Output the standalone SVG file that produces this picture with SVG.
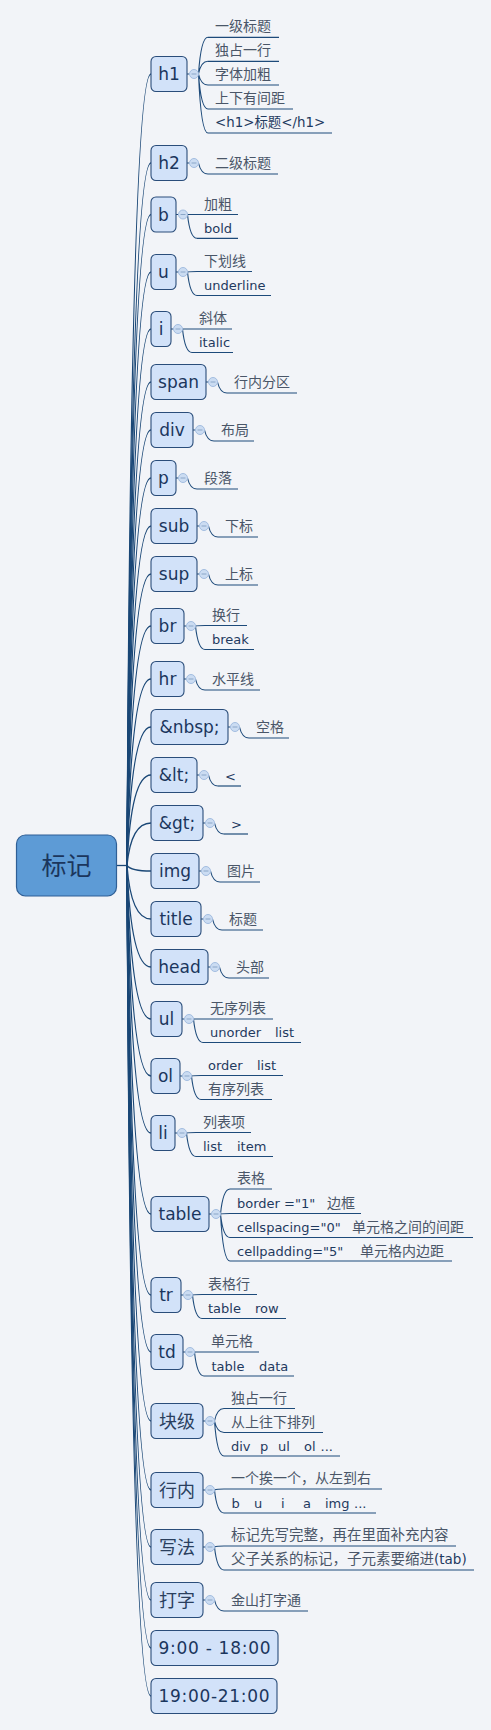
<svg xmlns="http://www.w3.org/2000/svg" width="491" height="1730" viewBox="0 0 491 1730">
<style>
.bg{fill:#f2f4f8}
.tr{fill:none;stroke:#1a4776;stroke-width:1.3}
.sc{fill:none;stroke:#1d4a7a;stroke-width:1.1}
.ul{fill:none;stroke:#1d4a7a;stroke-width:1.2}
.node{fill:#d2e2f9;stroke:#2a4d7a;stroke-width:1.1}
.root{fill:#5d9bd6;stroke:#2f5f96;stroke-width:1.2}
.nt{font-family:"DejaVu Sans","Noto Sans CJK SC",sans-serif;font-size:17px;fill:#1b365d;text-anchor:middle}
.ntc{font-family:"Noto Sans CJK SC",sans-serif;font-size:18px;fill:#2a3f5e;text-anchor:middle}
.rt{font-family:"Noto Sans CJK SC",sans-serif;font-size:25px;fill:#1b365d;text-anchor:middle}
.ce{font-family:"DejaVu Sans","Noto Sans CJK SC",sans-serif;font-size:13px;fill:#1f3a5f}
.cc{font-family:"Noto Sans CJK SC",sans-serif;font-size:14px;fill:#4a5668}
.col{fill:#cbdcf2;stroke:#a3bde0;stroke-width:1}
.mn{stroke:#8aa6c8;stroke-width:1}
</style>
<rect class="bg" x="0" y="0" width="491" height="1730"/>

<g id="connectors">
<path class="tr" d="M116 865.5H127"/>
<path class="tr" d="M127 865.5Q131 74 151 74"/>
<path class="tr" d="M127 865.5Q131 163 151 163"/>
<path class="tr" d="M127 865.5Q131 214.5 151 214.5"/>
<path class="tr" d="M127 865.5Q131 272 151 272"/>
<path class="tr" d="M127 865.5Q131 329 151 329"/>
<path class="tr" d="M127 865.5Q131 382 151 382"/>
<path class="tr" d="M127 865.5Q131 430 151 430"/>
<path class="tr" d="M127 865.5Q131 478 151 478"/>
<path class="tr" d="M127 865.5Q131 526 151 526"/>
<path class="tr" d="M127 865.5Q131 574 151 574"/>
<path class="tr" d="M127 865.5Q131 626 151 626"/>
<path class="tr" d="M127 865.5Q131 679 151 679"/>
<path class="tr" d="M127 865.5Q131 727 151 727"/>
<path class="tr" d="M127 865.5Q131 775 151 775"/>
<path class="tr" d="M127 865.5Q131 823 151 823"/>
<path class="tr" d="M127 865.5Q131 871 151 871"/>
<path class="tr" d="M127 865.5Q131 919 151 919"/>
<path class="tr" d="M127 865.5Q131 967 151 967"/>
<path class="tr" d="M127 865.5Q131 1019 151 1019"/>
<path class="tr" d="M127 865.5Q131 1076 151 1076"/>
<path class="tr" d="M127 865.5Q131 1133 151 1133"/>
<path class="tr" d="M127 865.5Q131 1214 151 1214"/>
<path class="tr" d="M127 865.5Q131 1295 151 1295"/>
<path class="tr" d="M127 865.5Q131 1352 151 1352"/>
<path class="tr" d="M127 865.5Q131 1421 151 1421"/>
<path class="tr" d="M127 865.5Q131 1490 151 1490"/>
<path class="tr" d="M127 865.5Q131 1547 151 1547"/>
<path class="tr" d="M127 865.5Q131 1600 151 1600"/>
<path class="tr" d="M127 865.5Q131 1648 151 1648"/>
<path class="tr" d="M127 865.5Q131 1696 151 1696"/>

<!-- h1 -->
<path class="sc" d="M187 74H189.5M198.5 74Q201 37.3 208 37.3M198.5 74Q201 61.3 208 61.3M198.5 74Q201 85 208 85M198.5 74Q201 109 208 109M198.5 74Q201 133 208 133"/>
<path class="sc" d="M187 163H189.5M198.5 163Q201 174 208 174"/>
<path class="sc" d="M176 214.5H178.5M187.5 214.5Q190 214.5 197 214.5M187.5 214.5Q190 238.3 197 238.3"/>
<path class="sc" d="M176 272H178.5M187.5 272Q190 271.5 197 271.5M187.5 272Q190 295.5 197 295.5"/>
<path class="sc" d="M171 329H173.5M182.5 329Q185 329 192 329M182.5 329Q185 352.5 192 352.5"/>
<path class="sc" d="M206 382H208.5M217.5 382Q220 393 227 393"/>
<path class="sc" d="M193 430H195.5M204.5 430Q207 441 214 441"/>
<path class="sc" d="M176 478H178.5M187.5 478Q190 489 197 489"/>
<path class="sc" d="M197 526H199.5M208.5 526Q211 537 218 537"/>
<path class="sc" d="M197 574H199.5M208.5 574Q211 585 218 585"/>
<path class="sc" d="M184 626H186.5M195.5 626Q198 625.5 205 625.5M195.5 626Q198 649.5 205 649.5"/>
<path class="sc" d="M184 679H186.5M195.5 679Q198 690 205 690"/>
<path class="sc" d="M228 727H230.5M239.5 727Q242 738 249 738"/>
<path class="sc" d="M197 775H199.5M208.5 775Q211 786 218 786"/>
<path class="sc" d="M203 823H205.5M214.5 823Q217 834 224 834"/>
<path class="sc" d="M199 871H201.5M210.5 871Q213 882 220 882"/>
<path class="sc" d="M201 919H203.5M212.5 919Q215 930 222 930"/>
<path class="sc" d="M208 967H210.5M219.5 967Q222 978 229 978"/>
<path class="sc" d="M182 1019H184.5M193.5 1019Q196 1019 203 1019M193.5 1019Q196 1042.5 203 1042.5"/>
<path class="sc" d="M180 1076H182.5M191.5 1076Q194 1075.5 201 1075.5M191.5 1076Q194 1099.5 201 1099.5"/>
<path class="sc" d="M175 1133H177.5M186.5 1133Q189 1132.5 196 1132.5M186.5 1133Q189 1156.5 196 1156.5"/>
<path class="sc" d="M209 1214H211.5M220.5 1214Q223 1189 230 1189M220.5 1214Q223 1213.5 230 1213.5M220.5 1214Q223 1237.5 230 1237.5M220.5 1214Q223 1261 230 1261"/>
<path class="sc" d="M181 1295H183.5M192.5 1295Q195 1294.5 202 1294.5M192.5 1295Q195 1318.5 202 1318.5"/>
<path class="sc" d="M183 1352H185.5M194.5 1352Q197 1352 204 1352M194.5 1352Q197 1376 204 1376"/>
<path class="sc" d="M203 1421H205.5M214.5 1421Q217 1408.5 224 1408.5M214.5 1421Q217 1432.5 224 1432.5M214.5 1421Q217 1456 224 1456"/>
<path class="sc" d="M203 1490H205.5M214.5 1490Q217 1489 224 1489M214.5 1490Q217 1513 224 1513"/>
<path class="sc" d="M203 1547H205.5M214.5 1547Q217 1546 224 1546M214.5 1547Q217 1570 224 1570"/>
<path class="sc" d="M203 1600H205.5M214.5 1600Q217 1611 224 1611"/>
</g>

<g id="root"><rect class="root" x="16.5" y="835" width="100" height="61" rx="9"/><text class="rt" x="66.5" y="874.5">标记</text></g>

<g id="n-h1"><rect class="node" x="151" y="56.5" width="36" height="35" rx="5"/><text class="nt" x="169" y="80">h1</text><circle class="col" cx="194" cy="74" r="4.5"/><path class="mn" d="M191.5 74H196.5"/></g>
<g id="n-h1-1"><text class="cc" x="215" y="31.3">一级标题</text><path class="ul" d="M208 37.3H279"/></g>
<g id="n-h1-2"><text class="cc" x="215" y="55.3">独占一行</text><path class="ul" d="M208 61.3H279"/></g>
<g id="n-h1-3"><text class="cc" x="215" y="79">字体加粗</text><path class="ul" d="M208 85H279"/></g>
<g id="n-h1-4"><text class="cc" x="215" y="103">上下有间距</text><path class="ul" d="M208 109H293"/></g>
<g id="n-h1-5"><text class="ce" x="215" y="127" style="font-size:13.4px">&lt;h1&gt;标题&lt;/h1&gt;</text><path class="ul" d="M208 133H332"/></g>

<g id="n-h2"><rect class="node" x="151" y="145.5" width="36" height="35" rx="5"/><text class="nt" x="169" y="169">h2</text><circle class="col" cx="194" cy="163" r="4.5"/><path class="mn" d="M191.5 163H196.5"/></g>
<g id="n-h2-1"><text class="cc" x="215" y="168">二级标题</text><path class="ul" d="M208 174H278"/></g>

<g id="n-b"><rect class="node" x="151" y="197" width="25" height="35" rx="5"/><text class="nt" x="163.5" y="220.5">b</text><circle class="col" cx="183" cy="214.5" r="4.5"/><path class="mn" d="M180.5 214.5H185.5"/></g>
<g id="n-b-1"><text class="cc" x="204" y="208.5">加粗</text><path class="ul" d="M197 214.5H238"/></g>
<g id="n-b-2"><text class="ce" x="204" y="232.8">bold</text><path class="ul" d="M197 238.3H238"/></g>

<g id="n-u"><rect class="node" x="151" y="254.5" width="25" height="35" rx="5"/><text class="nt" x="163.5" y="278">u</text><circle class="col" cx="183" cy="272" r="4.5"/><path class="mn" d="M180.5 272H185.5"/></g>
<g id="n-u-1"><text class="cc" x="204" y="265.5">下划线</text><path class="ul" d="M197 271.5H252"/></g>
<g id="n-u-2"><text class="ce" x="204" y="290">underline</text><path class="ul" d="M197 295.5H271"/></g>

<g id="n-i"><rect class="node" x="151" y="311.5" width="20" height="35" rx="5"/><text class="nt" x="161" y="335">i</text><circle class="col" cx="178" cy="329" r="4.5"/><path class="mn" d="M175.5 329H180.5"/></g>
<g id="n-i-1"><text class="cc" x="199" y="323">斜体</text><path class="ul" d="M192 329H232"/></g>
<g id="n-i-2"><text class="ce" x="199" y="347">italic</text><path class="ul" d="M192 352.5H233"/></g>

<g id="n-span"><rect class="node" x="151" y="364.5" width="55" height="35" rx="5"/><text class="nt" x="178.5" y="388">span</text><circle class="col" cx="213" cy="382" r="4.5"/><path class="mn" d="M210.5 382H215.5"/></g>
<g id="n-span-1"><text class="cc" x="234" y="387">行内分区</text><path class="ul" d="M227 393H297"/></g>

<g id="n-div"><rect class="node" x="151" y="412.5" width="42" height="35" rx="5"/><text class="nt" x="172" y="436">div</text><circle class="col" cx="200" cy="430" r="4.5"/><path class="mn" d="M197.5 430H202.5"/></g>
<g id="n-div-1"><text class="cc" x="221" y="435">布局</text><path class="ul" d="M214 441H254"/></g>

<g id="n-p"><rect class="node" x="151" y="460.5" width="25" height="35" rx="5"/><text class="nt" x="163.5" y="484">p</text><circle class="col" cx="183" cy="478" r="4.5"/><path class="mn" d="M180.5 478H185.5"/></g>
<g id="n-p-1"><text class="cc" x="204" y="483">段落</text><path class="ul" d="M197 489H238"/></g>

<g id="n-sub"><rect class="node" x="151" y="508.5" width="46" height="35" rx="5"/><text class="nt" x="174" y="532">sub</text><circle class="col" cx="204" cy="526" r="4.5"/><path class="mn" d="M201.5 526H206.5"/></g>
<g id="n-sub-1"><text class="cc" x="225" y="531">下标</text><path class="ul" d="M218 537H258"/></g>

<g id="n-sup"><rect class="node" x="151" y="556.5" width="46" height="35" rx="5"/><text class="nt" x="174" y="580">sup</text><circle class="col" cx="204" cy="574" r="4.5"/><path class="mn" d="M201.5 574H206.5"/></g>
<g id="n-sup-1"><text class="cc" x="225" y="579">上标</text><path class="ul" d="M218 585H258"/></g>

<g id="n-br"><rect class="node" x="151" y="608.5" width="33" height="35" rx="5"/><text class="nt" x="167.5" y="632">br</text><circle class="col" cx="191" cy="626" r="4.5"/><path class="mn" d="M188.5 626H193.5"/></g>
<g id="n-br-1"><text class="cc" x="212" y="619.5">换行</text><path class="ul" d="M205 625.5H247"/></g>
<g id="n-br-2"><text class="ce" x="212" y="644">break</text><path class="ul" d="M205 649.5H254"/></g>

<g id="n-hr"><rect class="node" x="151" y="661.5" width="33" height="35" rx="5"/><text class="nt" x="167.5" y="685">hr</text><circle class="col" cx="191" cy="679" r="4.5"/><path class="mn" d="M188.5 679H193.5"/></g>
<g id="n-hr-1"><text class="cc" x="212" y="684">水平线</text><path class="ul" d="M205 690H260"/></g>

<g id="n-nbsp"><rect class="node" x="151" y="709.5" width="77" height="35" rx="5"/><text class="nt" x="189.5" y="733">&amp;nbsp;</text><circle class="col" cx="235" cy="727" r="4.5"/><path class="mn" d="M232.5 727H237.5"/></g>
<g id="n-nbsp-1"><text class="cc" x="256" y="732">空格</text><path class="ul" d="M249 738H289"/></g>

<g id="n-lt"><rect class="node" x="151" y="757.5" width="46" height="35" rx="5"/><text class="nt" x="174" y="781">&amp;lt;</text><circle class="col" cx="204" cy="775" r="4.5"/><path class="mn" d="M201.5 775H206.5"/></g>
<g id="n-lt-1"><text class="ce" x="225" y="780.5">&lt;</text><path class="ul" d="M218 786H241"/></g>

<g id="n-gt"><rect class="node" x="151" y="805.5" width="52" height="35" rx="5"/><text class="nt" x="177" y="829">&amp;gt;</text><circle class="col" cx="210" cy="823" r="4.5"/><path class="mn" d="M207.5 823H212.5"/></g>
<g id="n-gt-1"><text class="ce" x="231" y="828.5">&gt;</text><path class="ul" d="M224 834H248"/></g>

<g id="n-img"><rect class="node" x="151" y="853.5" width="48" height="35" rx="5"/><text class="nt" x="175" y="877">img</text><circle class="col" cx="206" cy="871" r="4.5"/><path class="mn" d="M203.5 871H208.5"/></g>
<g id="n-img-1"><text class="cc" x="227" y="876">图片</text><path class="ul" d="M220 882H260"/></g>

<g id="n-title"><rect class="node" x="151" y="901.5" width="50" height="35" rx="5"/><text class="nt" x="176" y="925">title</text><circle class="col" cx="208" cy="919" r="4.5"/><path class="mn" d="M205.5 919H210.5"/></g>
<g id="n-title-1"><text class="cc" x="229" y="924">标题</text><path class="ul" d="M222 930H263"/></g>

<g id="n-head"><rect class="node" x="151" y="949.5" width="57" height="35" rx="5"/><text class="nt" x="179.5" y="973">head</text><circle class="col" cx="215" cy="967" r="4.5"/><path class="mn" d="M212.5 967H217.5"/></g>
<g id="n-head-1"><text class="cc" x="236" y="972">头部</text><path class="ul" d="M229 978H269"/></g>

<g id="n-ul"><rect class="node" x="151" y="1001.5" width="31" height="35" rx="5"/><text class="nt" x="166.5" y="1025">ul</text><circle class="col" cx="189" cy="1019" r="4.5"/><path class="mn" d="M186.5 1019H191.5"/></g>
<g id="n-ul-1"><text class="cc" x="210" y="1013">无序列表</text><path class="ul" d="M203 1019H273"/></g>
<g id="n-ul-2"><text class="ce" y="1037"><tspan x="210">unorder</tspan><tspan x="275">list</tspan></text><path class="ul" d="M203 1042.5H301"/></g>

<g id="n-ol"><rect class="node" x="151" y="1058.5" width="29" height="35" rx="5"/><text class="nt" x="165.5" y="1082">ol</text><circle class="col" cx="187" cy="1076" r="4.5"/><path class="mn" d="M184.5 1076H189.5"/></g>
<g id="n-ol-1"><text class="ce" y="1070"><tspan x="208">order</tspan><tspan x="257">list</tspan></text><path class="ul" d="M201 1075.5H283"/></g>
<g id="n-ol-2"><text class="cc" x="208" y="1093.5">有序列表</text><path class="ul" d="M201 1099.5H272"/></g>

<g id="n-li"><rect class="node" x="151" y="1115.5" width="24" height="35" rx="5"/><text class="nt" x="163" y="1139">li</text><circle class="col" cx="182" cy="1133" r="4.5"/><path class="mn" d="M179.5 1133H184.5"/></g>
<g id="n-li-1"><text class="cc" x="203" y="1126.5">列表项</text><path class="ul" d="M196 1132.5H251"/></g>
<g id="n-li-2"><text class="ce" y="1151"><tspan x="203">list</tspan><tspan x="237">item</tspan></text><path class="ul" d="M196 1156.5H273"/></g>

<g id="n-table"><rect class="node" x="151" y="1196.5" width="58" height="35" rx="5"/><text class="nt" x="180" y="1220">table</text><circle class="col" cx="216" cy="1214" r="4.5"/><path class="mn" d="M213.5 1214H218.5"/></g>
<g id="n-table-1"><text class="cc" x="237" y="1183">表格</text><path class="ul" d="M230 1189H272"/></g>
<g id="n-table-2"><text class="ce" y="1208"><tspan x="237">border ="1"</tspan><tspan class="cc" x="327">边框</tspan></text><path class="ul" d="M230 1213.5H361"/></g>
<g id="n-table-3"><text class="ce" y="1232"><tspan x="237">cellspacing="0"</tspan><tspan class="cc" x="352">单元格之间的间距</tspan></text><path class="ul" d="M230 1237.5H473"/></g>
<g id="n-table-4"><text class="ce" y="1255.5"><tspan x="237">cellpadding="5"</tspan><tspan class="cc" x="360">单元格内边距</tspan></text><path class="ul" d="M230 1261H452"/></g>

<g id="n-tr"><rect class="node" x="151" y="1277.5" width="30" height="35" rx="5"/><text class="nt" x="166" y="1301">tr</text><circle class="col" cx="188" cy="1295" r="4.5"/><path class="mn" d="M185.5 1295H190.5"/></g>
<g id="n-tr-1"><text class="cc" x="208" y="1288.5">表格行</text><path class="ul" d="M202 1294.5H257"/></g>
<g id="n-tr-2"><text class="ce" y="1313"><tspan x="208">table</tspan><tspan x="255">row</tspan></text><path class="ul" d="M202 1318.5H286"/></g>

<g id="n-td"><rect class="node" x="151" y="1334.5" width="32" height="35" rx="5"/><text class="nt" x="167" y="1358">td</text><circle class="col" cx="190" cy="1352" r="4.5"/><path class="mn" d="M187.5 1352H192.5"/></g>
<g id="n-td-1"><text class="cc" x="211" y="1346">单元格</text><path class="ul" d="M204 1352H259"/></g>
<g id="n-td-2"><text class="ce" y="1370.5"><tspan x="211.5">table</tspan><tspan x="259">data</tspan></text><path class="ul" d="M204 1376H294"/></g>

<g id="n-block"><rect class="node" x="151" y="1403.5" width="52" height="35" rx="5"/><text class="ntc" x="177" y="1428">块级</text><circle class="col" cx="210" cy="1421" r="4.5"/><path class="mn" d="M207.5 1421H212.5"/></g>
<g id="n-block-1"><text class="cc" x="231" y="1402.5">独占一行</text><path class="ul" d="M224 1408.5H295"/></g>
<g id="n-block-2"><text class="cc" x="231" y="1426.5">从上往下排列</text><path class="ul" d="M224 1432.5H323"/></g>
<g id="n-block-3"><text class="ce" y="1450.5"><tspan x="231">div</tspan><tspan x="260">p</tspan><tspan x="278">ul</tspan><tspan x="304">ol</tspan><tspan x="320.5">...</tspan></text><path class="ul" d="M224 1456H340"/></g>

<g id="n-inline"><rect class="node" x="151" y="1472.5" width="52" height="35" rx="5"/><text class="ntc" x="177" y="1497">行内</text><circle class="col" cx="210" cy="1490" r="4.5"/><path class="mn" d="M207.5 1490H212.5"/></g>
<g id="n-inline-1"><text class="cc" x="231" y="1483">一个挨一个，从左到右</text><path class="ul" d="M224 1489H382"/></g>
<g id="n-inline-2"><text class="ce" y="1507.5"><tspan x="231.5">b</tspan><tspan x="254">u</tspan><tspan x="281">i</tspan><tspan x="303">a</tspan><tspan x="325">img</tspan><tspan x="354">...</tspan></text><path class="ul" d="M224 1513H376"/></g>

<g id="n-write"><rect class="node" x="151" y="1529.5" width="52" height="35" rx="5"/><text class="ntc" x="177" y="1554">写法</text><circle class="col" cx="210" cy="1547" r="4.5"/><path class="mn" d="M207.5 1547H212.5"/></g>
<g id="n-write-1"><text class="cc" x="231" y="1540" style="font-size:14.5px">标记先写完整，再在里面补充内容</text><path class="ul" d="M224 1546H456"/></g>
<g id="n-write-2"><text class="cc" x="231" y="1564" style="font-size:14.5px">父子关系的标记，子元素要缩进<tspan style="font-family:'DejaVu Sans',sans-serif;font-size:13.5px;fill:#1f3a5f">(tab)</tspan></text><path class="ul" d="M224 1570H474"/></g>

<g id="n-type"><rect class="node" x="151" y="1582.5" width="52" height="35" rx="5"/><text class="ntc" x="177" y="1607">打字</text><circle class="col" cx="210" cy="1600" r="4.5"/><path class="mn" d="M207.5 1600H212.5"/></g>
<g id="n-type-1"><text class="cc" x="231" y="1605">金山打字通</text><path class="ul" d="M224 1611H308"/></g>

<g id="n-t1"><rect class="node" x="151" y="1630.5" width="127" height="35" rx="5"/><text class="nt" x="214.5" y="1654" textLength="112" lengthAdjust="spacing">9:00 - 18:00</text></g>
<g id="n-t2"><rect class="node" x="151" y="1678.5" width="126" height="35" rx="5"/><text class="nt" x="214" y="1702" textLength="111" lengthAdjust="spacing">19:00-21:00</text></g>
</svg>
